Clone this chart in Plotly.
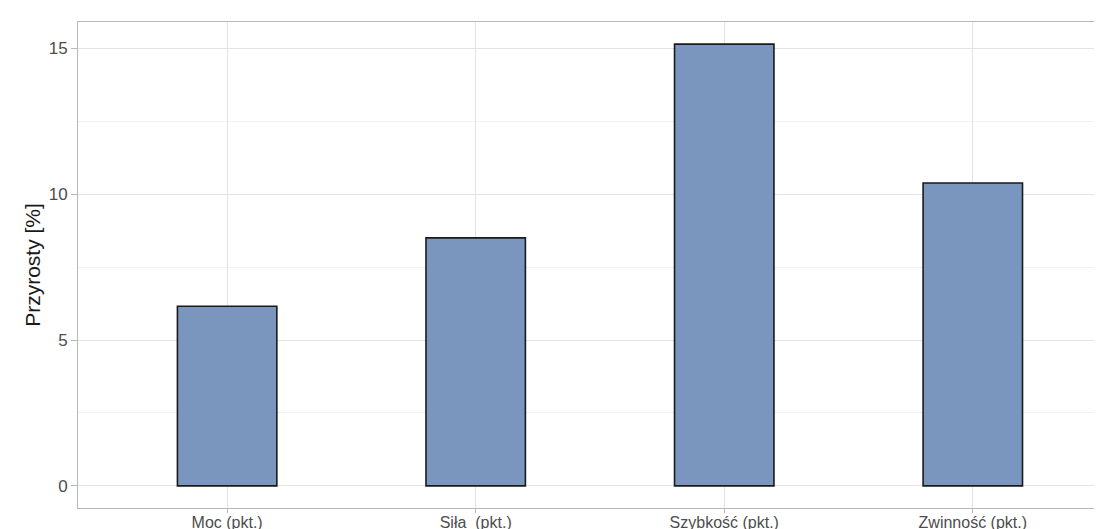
import plotly.graph_objects as go

categories = ["Moc (pkt.)", "Siła  (pkt.)", "Szybkość (pkt.)", "Zwinność (pkt.)"]
values = [6.16, 8.5, 15.14, 10.38]
y_ticks = [0, 5, 10, 15]
y_minor = [2.5, 7.5, 12.5]

fig = go.Figure()
fig.add_trace(go.Bar(
    x=list(range(len(categories))), y=values, width=0.4,
    marker=dict(color="#7b96be", line=dict(color="#1a1a1a", width=1.6)),
))

fig.update_layout(
    width=1102, height=529,
    margin=dict(l=70, r=0, t=14, b=29),
    paper_bgcolor="white", plot_bgcolor="white",
    showlegend=False,
    font=dict(family="Liberation Sans, Arial, sans-serif", color="#4d4d4d", size=16),
    xaxis=dict(
        range=[-0.6, 3.552],
        tickmode="array", tickvals=list(range(len(categories))), ticktext=categories,
        showgrid=True, gridcolor="#e3e3e3", gridwidth=1,
        showline=True, linecolor="#b8b8b8", linewidth=1, mirror=True,
        ticks="outside", ticklen=4, tickcolor="#b8b8b8",
        tickfont=dict(size=16, color="#4d4d4d"),
        ticklabelstandoff=-4,
        zeroline=False,
    ),
    yaxis=dict(
        range=[-0.757, 15.9],
        tickmode="array", tickvals=y_ticks,
        showgrid=True, gridcolor="#e3e3e3", gridwidth=1,
        minor=dict(tickmode="array", tickvals=y_minor, showgrid=True, gridcolor="#f0f0f0", gridwidth=1),
        showline=True, linecolor="#b8b8b8", linewidth=1, mirror=False,
        ticks="outside", ticklen=6, tickcolor="#b8b8b8",
        tickfont=dict(size=17, color="#4d4d4d"),
        zeroline=False,
        title=dict(text="Przyrosty [%]", font=dict(size=21, color="#1a1a1a"), standoff=2),
    ),
)

fig.write_html("out.html")
